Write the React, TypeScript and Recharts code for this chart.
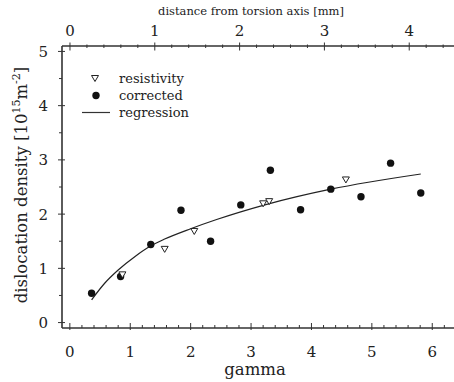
import React from 'react';
import { ComposedChart, XAxis, YAxis, Scatter, Line, Legend, Label } from 'recharts';

const GAMMA_CORRECTED = [0.36, 0.84, 1.34, 1.84, 2.33, 2.83, 3.32, 3.82, 4.32, 4.82, 5.31, 5.81];
const DENSITY_CORRECTED = [0.54, 0.85, 1.44, 2.07, 1.5, 2.17, 2.81, 2.08, 2.46, 2.32, 2.94, 2.39];
const GAMMA_RESISTIVITY = [0.87, 1.57, 2.06, 3.2, 3.3, 4.57];
const DENSITY_RESISTIVITY = [0.88, 1.35, 1.68, 2.19, 2.23, 2.63];
const GAMMA_REGRESSION = [0.36, 0.58, 0.8, 1.08, 1.35, 1.57, 2.0, 2.43, 3.26, 4.32, 5.81];
const DENSITY_REGRESSION = [0.42, 0.73, 0.97, 1.22, 1.42, 1.54, 1.73, 1.9, 2.18, 2.46, 2.74];

const GAMMA_TICKS = [0, 0.2, 0.4, 0.6, 0.8, 1, 1.2, 1.4, 1.6, 1.8, 2, 2.2, 2.4, 2.6, 2.8, 3, 3.2, 3.4, 3.6, 3.8, 4, 4.2, 4.4, 4.6, 4.8, 5, 5.2, 5.4, 5.6, 5.8, 6, 6.2];
const DISTANCE_TICKS = [0, 0.2, 0.4, 0.6, 0.8, 1, 1.2, 1.4, 1.6, 1.8, 2, 2.2, 2.4, 2.6, 2.8, 3, 3.2, 3.4, 3.6, 3.8, 4, 4.2, 4.4];
const DENSITY_TICKS = [0, 0.5, 1, 1.5, 2, 2.5, 3, 3.5, 4, 4.5, 5];

const LEGEND_ORDER = ['resistivity', 'corrected', 'regression'];

const corrected = GAMMA_CORRECTED.map((g, i) => ({ g, d: DENSITY_CORRECTED[i] }));
const resistivity = GAMMA_RESISTIVITY.map((g, i) => ({ g, d: DENSITY_RESISTIVITY[i] }));
const regression = GAMMA_REGRESSION.map((g, i) => ({ g, d: DENSITY_REGRESSION[i] }));
// anchor for the secondary (distance) axis so that it is rendered; draws nothing
const distanceAnchor = [{ g: 0, d: 0 }];

const FONT = '"DejaVu Serif", serif';
const AXIS = '#333';
const TEXT = '#222';

const isMajor = (v: number) => Math.abs(v - Math.round(v)) < 1e-6;

const BottomTick = (props: any) => {
  const { x, y, payload } = props;
  const v = payload.value;
  const major = isMajor(v);
  return (
    <g>
      <line x1={x} x2={x} y1={major ? y - 5 : y - 3} y2={major ? y + 2 : y} stroke={AXIS} strokeWidth={1} />
      {major && (
        <text x={x} y={y + 29} textAnchor="middle" fontFamily={FONT} fontSize={15} fill={TEXT}>
          {Math.round(v)}
        </text>
      )}
    </g>
  );
};

const TopTick = (props: any) => {
  const { x, y, payload } = props;
  const v = payload.value;
  const major = isMajor(v);
  return (
    <g>
      <line x1={x} x2={x} y1={major ? y - 3.5 : y - 1.5} y2={major ? y + 4.5 : y + 2} stroke={AXIS} strokeWidth={1} />
      {major && (
        <text x={x} y={y - 10.5} textAnchor="middle" fontFamily={FONT} fontSize={15} fill={TEXT}>
          {Math.round(v)}
        </text>
      )}
    </g>
  );
};

const LeftTick = (props: any) => {
  const { x, y, payload } = props;
  const v = payload.value;
  const major = isMajor(v);
  return (
    <g>
      <line x1={major ? x - 4 : x - 3} x2={major ? x + 3 : x} y1={y} y2={y} stroke={AXIS} strokeWidth={1} />
      {major && (
        <text x={x - 14} y={y + 5.5} textAnchor="end" fontFamily={FONT} fontSize={15} fill={TEXT}>
          {Math.round(v)}
        </text>
      )}
    </g>
  );
};

const Triangle = (props: any) => {
  const { cx, cy } = props;
  if (cx == null || cy == null) return null;
  const pts = `${cx - 3.5},${cy - 3} ${cx + 3.5},${cy - 3} ${cx},${cy + 3}`;
  return <polygon points={pts} fill="#fff" stroke="#222" strokeWidth={1} />;
};

const Dot = (props: any) => {
  const { cx, cy } = props;
  if (cx == null || cy == null) return null;
  return <circle cx={cx} cy={cy} r={3.7} fill="#111" />;
};

const Nothing = () => <g />;

const YTitle = (props: any) => {
  const vb = props.viewBox || { x: 0, y: 46, width: 62, height: 282 };
  const cx = vb.x + 27;
  const cy = vb.y + vb.height / 2 - 2;
  return (
    <text
      x={cx}
      y={cy}
      transform={`rotate(-90 ${cx} ${cy})`}
      textAnchor="middle"
      fontFamily={FONT}
      fontSize={16.5}
      fill={TEXT}
    >
      dislocation density [10
      <tspan dy={-7} fontSize={11}>15</tspan>
      <tspan dy={7}>m</tspan>
      <tspan dy={-7} fontSize={11}>-2</tspan>
      <tspan dy={7}>]</tspan>
    </text>
  );
};

const BottomTitle = (props: any) => {
  const vb = props.viewBox || { x: 62, y: 328, width: 392, height: 54 };
  return (
    <text x={vb.x + vb.width / 2 - 3} y={vb.y + 47} textAnchor="middle" fontFamily={FONT} fontSize={16.5} fill={TEXT}>
      gamma
    </text>
  );
};

const TopTitle = (props: any) => {
  const vb = props.viewBox || { x: 62, y: 0, width: 392, height: 46 };
  return (
    <text x={vb.x + vb.width / 2 - 7} y={vb.y + 15} textAnchor="middle" fontFamily={FONT} fontSize={11.5} fill={TEXT}>
      distance from torsion axis [mm]
    </text>
  );
};

const LegendContent = (props: any) => {
  const payload = props.payload || [];
  const items = LEGEND_ORDER.map((name) => payload.find((p: any) => p.value === name)).filter(Boolean);
  return (
    <div style={{ fontFamily: FONT, fontSize: 13, color: TEXT }}>
      {items.map((p: any) => (
        <div key={p.value} style={{ display: 'flex', alignItems: 'center', height: 17 }}>
          <svg width={41} height={17} style={{ display: 'block' }}>
            {p.value === 'resistivity' && <polygon points="13.5,5.5 20.5,5.5 17,11.5" fill="#fff" stroke="#222" strokeWidth={1} />}
            {p.value === 'corrected' && <circle cx={18} cy={8.5} r={3.7} fill="#111" />}
            {p.value === 'regression' && <line x1={4} x2={32} y1={8.5} y2={8.5} stroke="#333" strokeWidth={1.2} />}
          </svg>
          <span style={{ lineHeight: '17px' }}>{p.value}</span>
        </div>
      ))}
    </div>
  );
};

export default function App() {
  return (
    <div style={{ position: 'absolute', left: 0, top: 0, width: 454, height: 382, background: '#fff' }}>
      <ComposedChart width={454} height={382} margin={{ top: 0, right: 0, bottom: 0, left: 0 }}>
        <XAxis
          dataKey="g"
          type="number"
          domain={[-0.13, 6.36]}
          allowDataOverflow
          ticks={GAMMA_TICKS}
          interval={0}
          tick={<BottomTick />}
          tickLine={false}
          tickSize={0}
          tickMargin={0}
          height={54}
          axisLine={{ stroke: AXIS, strokeWidth: 1.6 }}
        >
          <Label content={<BottomTitle />} />
        </XAxis>
        <XAxis
          xAxisId="top"
          dataKey="g"
          orientation="top"
          type="number"
          domain={[-0.094, 4.528]}
          allowDataOverflow
          ticks={DISTANCE_TICKS}
          interval={0}
          tick={<TopTick />}
          tickLine={false}
          tickSize={0}
          tickMargin={0}
          height={46}
          axisLine={{ stroke: AXIS, strokeWidth: 1.6 }}
        >
          <Label content={<TopTitle />} />
        </XAxis>
        <YAxis
          type="number"
          domain={[-0.1, 5.1]}
          allowDataOverflow
          ticks={DENSITY_TICKS}
          interval={0}
          tick={<LeftTick />}
          tickLine={false}
          tickSize={0}
          tickMargin={0}
          width={62}
          axisLine={{ stroke: AXIS, strokeWidth: 1.6 }}
        >
          <Label content={<YTitle />} />
        </YAxis>
        <Legend
          layout="vertical"
          align="center"
          verticalAlign="middle"
          content={<LegendContent />}
          wrapperStyle={{ left: 78, top: 70, width: 140 }}
        />
        <Scatter
          name="distance"
          xAxisId="top"
          data={distanceAnchor}
          dataKey="d"
          shape={<Nothing />}
          legendType="none"
          isAnimationActive={false}
        />
        <Line
          name="regression"
          data={regression}
          dataKey="d"
          type="monotone"
          stroke="#222"
          strokeWidth={1.2}
          dot={false}
          activeDot={false}
          isAnimationActive={false}
          legendType="line"
        />
        <Scatter name="corrected" data={corrected} dataKey="d" shape={<Dot />} isAnimationActive={false} />
        <Scatter name="resistivity" data={resistivity} dataKey="d" shape={<Triangle />} isAnimationActive={false} />
      </ComposedChart>
    </div>
  );
}
